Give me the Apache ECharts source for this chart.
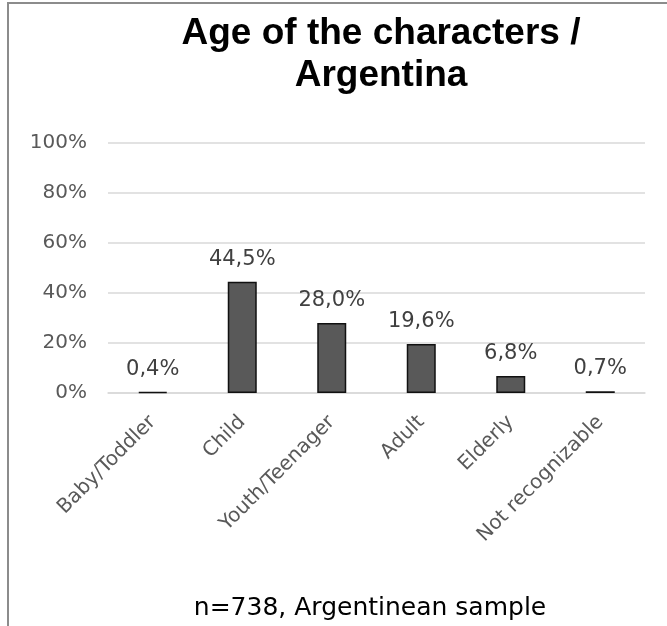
<!DOCTYPE html>
<html>
<head>
<meta charset="utf-8">
<script src="https://cdn.jsdelivr.net/npm/echarts@6/dist/echarts.min.js"></script>
<style>
html,body{margin:0;padding:0;background:#fff;overflow:hidden;}
#chart{width:667px;height:626px;}
</style>
</head>
<body>
<div id="chart"></div>
<script>
const categories = ['Baby/Toddler', 'Child', 'Youth/Teenager', 'Adult', 'Elderly', 'Not recognizable'];
const values = [0.4, 44.5, 28.0, 19.6, 6.8, 0.7];
const yTicks = [0, 20, 40, 60, 80, 100];
const titleText = 'Age of the characters /\nArgentina';
const subtitleText = 'n=738, Argentinean sample';

const FONT = '"DejaVu Sans", "Liberation Sans", Arial, sans-serif';
const TITLE_FONT = '"Liberation Sans", Arial, Helvetica, sans-serif';
const chart = echarts.init(document.getElementById('chart'), null, {renderer: 'canvas'});
chart.setOption({
  animation: false,
  backgroundColor: '#fff',
  title: [
    {
      text: titleText,
      left: 381, top: 13, textAlign: 'center', padding: 0,
      textStyle: {fontFamily: TITLE_FONT, fontWeight: 'bold', fontSize: 37, lineHeight: 42, color: '#000'}
    },
    {
      text: subtitleText,
      left: 370, top: 596, textAlign: 'center', padding: 0,
      textStyle: {fontFamily: FONT, fontWeight: 'normal', fontSize: 25, lineHeight: 25, color: '#000'}
    }
  ],
  graphic: [{
    type: 'rect', silent: true, z: -1,
    shape: {x: 8, y: 3, width: 720, height: 700},
    style: {fill: 'none', stroke: '#8c8c8c', lineWidth: 2}
  }],
  grid: {left: 108, right: 22, top: 143, bottom: 233, containLabel: false},
  xAxis: {
    type: 'category',
    data: categories,
    axisLine: {show: true, lineStyle: {color: '#d9d9d9', width: 1.5}},
    axisTick: {show: false},
    axisLabel: {rotate: 45, margin: 26, fontFamily: FONT, fontSize: 20, color: '#595959', interval: 0}
  },
  yAxis: {
    type: 'value',
    min: yTicks[0], max: yTicks[yTicks.length - 1], interval: yTicks[1] - yTicks[0],
    axisLine: {show: false},
    axisTick: {show: false},
    splitLine: {lineStyle: {color: '#d9d9d9', width: 1.5}},
    axisLabel: {formatter: '{value}%', margin: 21, padding: [5, 0, 0, 0], fontFamily: FONT, fontSize: 20, color: '#595959'}
  },
  series: [{
    type: 'bar',
    data: values,
    barWidth: 29,
    itemStyle: {color: '#595959', borderColor: '#111', borderWidth: 1.5},
    label: {
      show: true, position: 'top', distance: 12,
      fontFamily: FONT, fontSize: 21, color: '#404040',
      formatter: p => p.value.toFixed(1).replace('.', ',') + '%'
    }
  }]
});
</script>
</body>
</html>
